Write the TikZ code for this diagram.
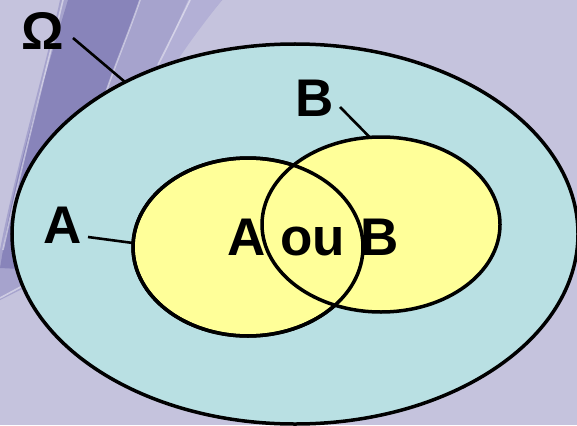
\documentclass[tikz,border=0pt]{standalone}
\usepackage{fontspec}
\setmainfont{Liberation Sans}
\definecolor{bgc}{HTML}{C5C3DD}
\definecolor{darkp}{HTML}{8884BA}
\definecolor{medp}{HTML}{A6A3CD}
\definecolor{lightp}{HTML}{B3B0D6}
\definecolor{omegafill}{HTML}{B9E0E3}
\definecolor{setfill}{HTML}{FFFF99}
\tikzset{
  setline/.style={draw=black, line width=3.5pt},
  lbl/.style={font=\fontsize{53}{60}\selectfont\bfseries, inner sep=0pt, anchor=base, text=black},
  leader/.style={draw=black, line width=2.6pt},
  pale/.style={draw=white, opacity=0.45, line width=1.6pt}
}
\begin{document}
\begin{tikzpicture}[x=1pt,y=-1pt]
\useasboundingbox (0,0) rectangle (577,425);
\begin{scope}
\clip (0,0) rectangle (577,425);
\fill[bgc] (0,0) rectangle (577,425);
% swoosh
\fill[medp] (60,0) -- (222,0) .. controls (180,50) and (150,80) .. (140,95) -- (40,280) -- (0,300) -- (0,250) .. controls (15,170) and (45,70) .. (60,0) -- cycle;
\fill[lightp] (188,0) -- (222,0) .. controls (190,40) and (170,70) .. (160,90) -- (150,90) .. controls (160,60) and (175,30) .. (188,0) -- cycle;
\fill[darkp] (68,0) -- (140,0) .. controls (128,35) and (115,65) .. (105,95) -- (40,270) -- (0,268) -- (3,250) .. controls (15,170) and (50,60) .. (68,0) -- cycle;
\draw[pale] (63,0) .. controls (45,75) and (18,180) .. (3,250);
\draw[pale] (140,0) .. controls (128,35) and (115,65) .. (105,95);
\draw[pale] (190,0) .. controls (178,25) and (168,45) .. (158,65);
\draw[pale] (0,298) -- (30,282);
% sets
\filldraw[setline, fill=omegafill] (295,234) ellipse [x radius=283pt, y radius=190pt];
\filldraw[setline, fill=setfill] (248,247) ellipse [x radius=115pt, y radius=89pt];
\filldraw[setline, fill=setfill] (381,224.5) ellipse [x radius=119pt, y radius=87.5pt];
\draw[setline] (248,247) ellipse [x radius=115pt, y radius=89pt];
\end{scope}
% labels
\node[lbl] (omega) at (43,50) {Ω};
\node[lbl] (alab) at (63,243) {A};
\node[lbl] (blab) at (315,117) {B};
\node[lbl] (union) at (313,255) {A ou B};
% leader ends on the set borders
\coordinate (omegaEnd) at (125,82);
\coordinate (aEnd) at (133,243);
\coordinate (bEnd) at (370,137.5);
\coordinate (omegaStart) at (73,38);
\coordinate (aStart) at (88,237);
\coordinate (bStart) at (340,107);
\draw[leader] (omegaStart) -- (omegaEnd);
\draw[leader] (aStart) -- (aEnd);
\draw[leader] (bStart) -- (bEnd);
\end{tikzpicture}
\end{document}
